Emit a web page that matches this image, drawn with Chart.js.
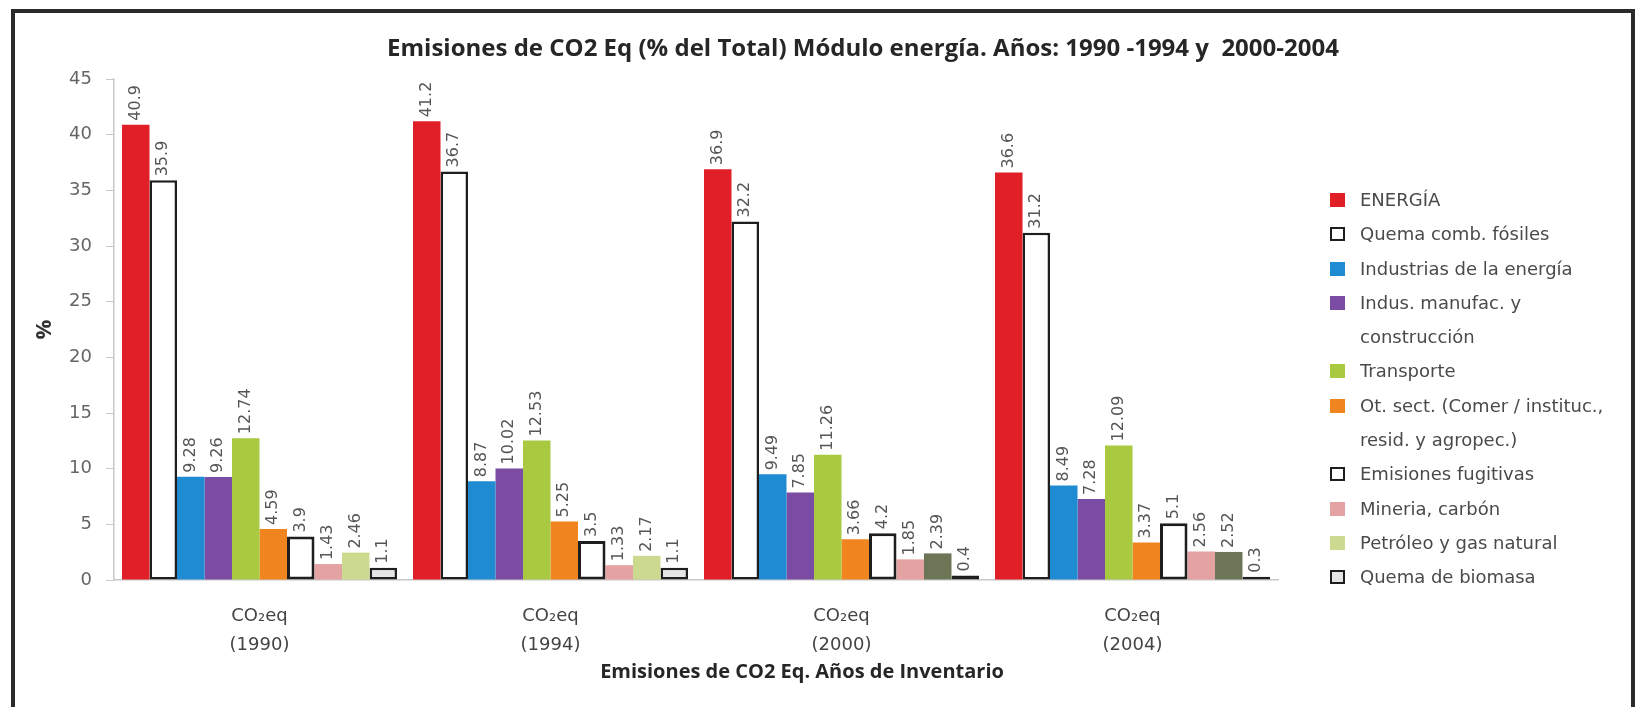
<!DOCTYPE html>
<html>
<head>
<meta charset="utf-8">
<script src="https://cdn.jsdelivr.net/npm/chart.js@4.4.1/dist/chart.umd.min.js"></script>
<style>
  html, body { margin: 0; padding: 0; background: #fff; overflow: hidden; }
  #wrap { position: relative; width: 1636px; height: 707px; }
  #frame {
    position: absolute; left: 11px; top: 9px; width: 1616px; height: 720px;
    border: 4px solid #2a2a2a; border-bottom: none; pointer-events: none;
  }
  .title {
    position: absolute; white-space: pre; transform: translate(-50%, -50%);
    font-family: "Open Sans", sans-serif; font-weight: 700; color: #262626;
  }
  #legend {
    position: absolute; left: 1330px; top: 183px;
    font-family: "DejaVu Sans", sans-serif; font-size: 18px; color: #4a4a4a;
    line-height: 34.3px;
  }
  .item { display: flex; align-items: flex-start; white-space: nowrap; }
  .swatch { width: 15px; height: 14px; margin: 10px 15px 0 0; box-sizing: border-box; flex: none; }
</style>
</head>
<body>
<div id="wrap">
  <canvas id="chart" width="1636" height="707"></canvas>
  <div id="mainTitle" class="title" style="left:863px; top:46px; font-size:24px;"></div>
  <div id="xTitle" class="title" style="left:802px; top:670px; font-size:20px;"></div>
  <div id="legend"></div>
  <div id="frame"></div>
</div>
<script>
const chartTitle = "Emisiones de CO2 Eq (% del Total) Módulo energía. Años: 1990 -1994 y  2000-2004";
const xAxisTitle = "Emisiones de CO2 Eq. Años de Inventario";
const yAxisTitle = "%";

const years = ["1990", "1994", "2000", "2004"];
const yMax = 45;
const yStep = 5;

const seriesNames = [
  ["ENERGÍA"],
  ["Quema comb. fósiles"],
  ["Industrias de la energía"],
  ["Indus. manufac. y", "construcción"],
  ["Transporte"],
  ["Ot. sect. (Comer / instituc.,", "resid. y agropec.)"],
  ["Emisiones fugitivas"],
  ["Mineria, carbón"],
  ["Petróleo y gas natural"],
  ["Quema de biomasa"]
];

const energia = [40.9, 41.2, 36.9, 36.6];
const quemaFosiles = [35.9, 36.7, 32.2, 31.2];
const industriasEnergia = [9.28, 8.87, 9.49, 8.49];
const indusManufac = [9.26, 10.02, 7.85, 7.28];
const transporte = [12.74, 12.53, 11.26, 12.09];
const otrosSectores = [4.59, 5.25, 3.66, 3.37];
const fugitivas = [3.9, 3.5, 4.2, 5.1];
const mineria = [1.43, 1.33, 1.85, 2.56];
const petroleoGas = [2.46, 2.17, 2.39, 2.52];
const quemaBiomasa = [1.1, 1.1, 0.4, 0.3];

const seriesValues = [energia, quemaFosiles, industriasEnergia, indusManufac, transporte,
  otrosSectores, fugitivas, mineria, petroleoGas, quemaBiomasa];

// fill, border, border width
const seriesStyles = [
  { fill: "#e01f27", border: "#e01f27", width: 0 },
  { fill: "#ffffff", border: "#1e1e1e", width: 2.5 },
  { fill: "#1f8bd2", border: "#1f8bd2", width: 0 },
  { fill: "#7b4ca4", border: "#7b4ca4", width: 0 },
  { fill: "#a8c940", border: "#a8c940", width: 0 },
  { fill: "#f0841f", border: "#f0841f", width: 0 },
  { fill: "#ffffff", border: "#1e1e1e", width: 3 },
  { fill: "#e4a2a2", border: "#e4a2a2", width: 0 },
  { fill: ["#cbda8e", "#cbda8e", "#6c7657", "#6c7657"], border: "#6c7657", width: 0 },
  { fill: "#e4e4e4", border: "#1e1e1e", width: 2.5 }
];

const valueLabels = {
  id: "valueLabels",
  afterDatasetsDraw(chart) {
    const { ctx } = chart;
    ctx.save();
    ctx.font = '16px "DejaVu Sans", sans-serif';
    ctx.fillStyle = "#555555";
    ctx.textAlign = "left";
    ctx.textBaseline = "middle";
    chart.data.datasets.forEach((ds, i) => {
      chart.getDatasetMeta(i).data.forEach((bar, j) => {
        ctx.save();
        ctx.translate(bar.x, bar.y - 4);
        ctx.rotate(-Math.PI / 2);
        ctx.fillText(String(ds.data[j]), 0, 0);
        ctx.restore();
      });
    });
    ctx.restore();
  }
};

document.getElementById("mainTitle").textContent = chartTitle;
document.getElementById("xTitle").textContent = xAxisTitle;

const legend = document.getElementById("legend");
seriesNames.forEach((name, i) => {
  const st = seriesStyles[i];
  const item = document.createElement("div");
  item.className = "item";
  const sw = document.createElement("div");
  sw.className = "swatch";
  sw.style.background = Array.isArray(st.fill) ? st.fill[0] : st.fill;
  if (st.width) sw.style.border = "2px solid " + st.border;
  const txt = document.createElement("div");
  txt.innerHTML = name.join("<br>");
  item.appendChild(sw);
  item.appendChild(txt);
  legend.appendChild(item);
});

new Chart(document.getElementById("chart"), {
  type: "bar",
  data: {
    labels: years.map((y) => ["CO₂eq", "(" + y + ")"]),
    datasets: seriesNames.map((name, i) => ({
      label: name.join(" "),
      data: seriesValues[i],
      backgroundColor: seriesStyles[i].fill,
      borderColor: seriesStyles[i].border,
      borderWidth: seriesStyles[i].width,
      borderSkipped: false,
      categoryPercentage: 0.945,
      barPercentage: 1
    }))
  },
  options: {
    responsive: false,
    animation: false,
    layout: { padding: { top: 79, right: 358, bottom: 0, left: 0 } },
    plugins: {
      legend: { display: false },
      tooltip: { enabled: false }
    },
    scales: {
      x: {
        grid: { display: false },
        border: { display: true, color: "#c8c8c8", width: 1.5 },
        ticks: {
          color: "#444444",
          padding: 13.5,
          font: { size: 18, family: "DejaVu Sans, sans-serif", lineHeight: 1.61 }
        },
        afterFit(scale) { scale.height = 127; }
      },
      y: {
        min: 0,
        max: yMax,
        grid: { drawOnChartArea: false, tickLength: 8, color: "#c8c8c8" },
        border: { display: true, color: "#c8c8c8", width: 1.5 },
        ticks: {
          stepSize: yStep,
          color: "#666666",
          padding: 14,
          font: { size: 18, family: "DejaVu Sans, sans-serif" }
        },
        title: {
          display: true,
          text: yAxisTitle,
          color: "#333",
          padding: { top: 32, bottom: 0 },
          font: { size: 22, weight: "bold", family: "Open Sans, sans-serif" }
        },
        afterFit(scale) { scale.width = 114; }
      }
    }
  },
  plugins: [valueLabels]
});
</script>
</body>
</html>
